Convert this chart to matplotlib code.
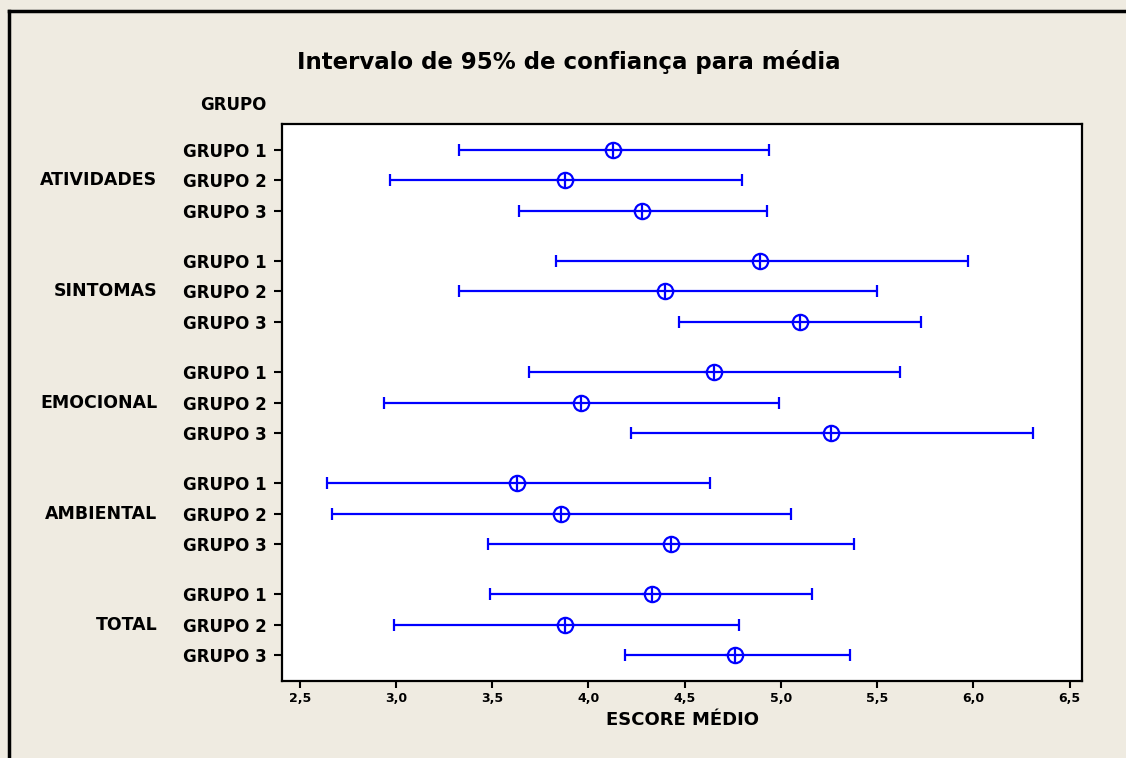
import matplotlib
matplotlib.use('Agg')
import matplotlib.pyplot as plt
from matplotlib.lines import Line2D
from matplotlib.transforms import blended_transform_factory

# Dados (IC 95% para a média)
categorias = ['ATIVIDADES', 'SINTOMAS', 'EMOCIONAL', 'AMBIENTAL', 'TOTAL']
grupos = ['GRUPO 1', 'GRUPO 2', 'GRUPO 3']
media = [[4.13, 3.88, 4.28],
         [4.89, 4.40, 5.10],
         [4.65, 3.96, 5.26],
         [3.63, 3.86, 4.43],
         [4.33, 3.88, 4.76]]
inferior = [[3.33, 2.97, 3.64],
            [3.83, 3.33, 4.47],
            [3.69, 2.94, 4.22],
            [2.64, 2.67, 3.48],
            [3.49, 2.99, 4.19]]
superior = [[4.94, 4.80, 4.93],
            [5.97, 5.50, 5.73],
            [5.62, 4.99, 6.31],
            [4.63, 5.05, 5.38],
            [5.16, 4.78, 5.36]]
xticks = [2.5, 3.0, 3.5, 4.0, 4.5, 5.0, 5.5, 6.0, 6.5]

fundo = '#EFEBE1'
azul = '#0000FF'
periodo = 3.64  # distância entre blocos (em linhas)

fig = plt.figure(figsize=(11.26, 7.58), dpi=100, facecolor=fundo)
ax = fig.add_axes([282 / 1126, 1 - 681 / 758, 800 / 1126, 557 / 758])
ax.set_facecolor('white')

pos_y = []
rotulos_y = []
for i, cat in enumerate(categorias):
    for j, g in enumerate(grupos):
        y = i * periodo + j
        m = media[i][j]
        err = [[m - inferior[i][j]], [superior[i][j] - m]]
        ax.errorbar([m], [y], xerr=err, fmt='none', ecolor=azul,
                    elinewidth=1.6, capsize=4.5, capthick=1.6, zorder=2)
        ax.plot([m], [y], marker='o', ms=11, mfc='white', mec=azul,
                mew=1.6, zorder=3)
        ax.plot([m], [y], marker='|', ms=11, mec=azul, mew=1.6, zorder=4)
        ax.plot([m - 0.045, m + 0.045], [y, y], color=azul, lw=1.6, zorder=4)
        pos_y.append(y)
        rotulos_y.append(g)

ultimo = (len(categorias) - 1) * periodo + 2
ax.set_ylim(ultimo + 0.85, -0.85)
ax.set_xlim(2.408, 6.564)
ax.set_yticks(pos_y)
ax.set_yticklabels(rotulos_y, fontsize=12, fontweight='bold')
ax.set_xticks(xticks)
ax.set_xticklabels([f'{v:.1f}'.replace('.', ',') for v in xticks],
                   fontsize=9, fontweight='bold')
ax.tick_params(axis='y', length=6, width=1.5, pad=5)
ax.tick_params(axis='x', length=5, width=1.5, pad=3)
for s in ax.spines.values():
    s.set_linewidth(1.6)

ax.set_xlabel('ESCORE MÉDIO', fontsize=13, fontweight='bold', labelpad=4)

trans = blended_transform_factory(ax.transAxes, ax.transData)
for i, cat in enumerate(categorias):
    ax.text(-0.156, i * periodo + 1, cat, transform=trans, ha='right',
            va='center', fontsize=12.5, fontweight='bold')
ax.text(-0.019, 1.034, 'GRUPO', transform=ax.transAxes, ha='right',
        va='center', fontsize=12, fontweight='bold')

fig.text(569 / 1126, 1 - 62 / 758, 'Intervalo de 95% de confiança para média',
         ha='center', va='center', fontsize=16.5, fontweight='bold')

# moldura da janela
fig.add_artist(Line2D([9 / 1126, 9 / 1126], [0, 1 - 11 / 758],
                      color='black', lw=2.5, transform=fig.transFigure))
fig.add_artist(Line2D([9 / 1126, 1], [1 - 11 / 758, 1 - 11 / 758],
                      color='black', lw=2.5, transform=fig.transFigure))

fig.savefig('out.png', dpi=100, facecolor=fundo)
